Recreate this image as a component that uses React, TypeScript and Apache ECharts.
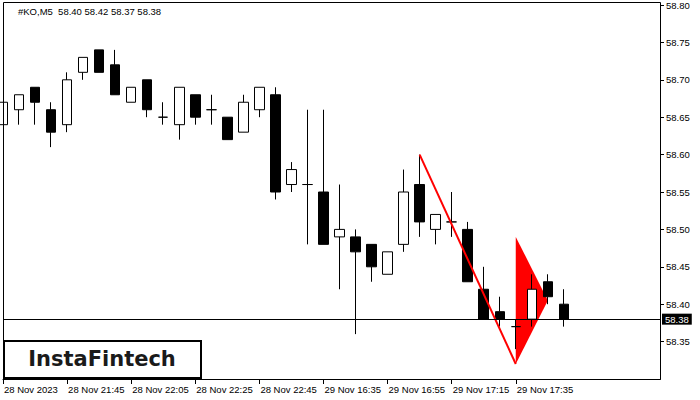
import React, { useEffect, useRef } from "react";
import * as echarts from "echarts";

const symbolLabel = "#KO,M5";
const lastOHLC = ["58.40", "58.42", "58.37", "58.38"];
const firstDateLabel = "28 Nov 2023";
const times = [
  "28 Nov 21:25", "28 Nov 21:30", "28 Nov 21:35", "28 Nov 21:40", "28 Nov 21:45", "28 Nov 21:50",
  "28 Nov 21:55", "28 Nov 22:00", "28 Nov 22:05", "28 Nov 22:10", "28 Nov 22:15", "28 Nov 22:20",
  "28 Nov 22:25", "28 Nov 22:30", "28 Nov 22:35", "28 Nov 22:40", "28 Nov 22:45", "28 Nov 22:50",
  "28 Nov 22:55", "29 Nov 16:30", "29 Nov 16:35", "29 Nov 16:40", "29 Nov 16:45", "29 Nov 16:50",
  "29 Nov 16:55", "29 Nov 17:00", "29 Nov 17:05", "29 Nov 17:10", "29 Nov 17:15", "29 Nov 17:20",
  "29 Nov 17:25", "29 Nov 17:30", "29 Nov 17:35", "29 Nov 17:40", "29 Nov 17:45", "29 Nov 17:50",
];
const emptySlots = ["", "", "", "", "", ""];

const opens = [
  58.64, 58.66, 58.69, 58.66, 58.64, 58.71, 58.74, 58.72, 58.67, 58.70, 58.65, 58.64,
  58.68, 58.66, 58.65, 58.63, 58.66, 58.68, 58.56, 58.56, 58.55, 58.49, 58.49, 58.48,
  58.44, 58.48, 58.56, 58.50, 58.51, 58.50, 58.42, 58.39, 58.37, 58.38, 58.43, 58.40,
];
const closes = [
  58.67, 58.68, 58.67, 58.63, 58.70, 58.73, 58.71, 58.68, 58.69, 58.66, 58.65, 58.69,
  58.65, 58.66, 58.62, 58.67, 58.69, 58.55, 58.58, 58.56, 58.48, 58.50, 58.47, 58.45,
  58.47, 58.55, 58.51, 58.52, 58.51, 58.43, 58.38, 58.38, 58.37, 58.42, 58.41, 58.38,
];
const lows = [
  58.64, 58.64, 58.64, 58.61, 58.63, 58.70, 58.71, 58.68, 58.67, 58.65, 58.64, 58.62,
  58.64, 58.64, 58.62, 58.63, 58.65, 58.54, 58.55, 58.48, 58.48, 58.42, 58.36, 58.43,
  58.44, 58.47, 58.49, 58.48, 58.49, 58.43, 58.38, 58.37, 58.34, 58.37, 58.40, 58.37,
];
const highs = [
  58.67, 58.68, 58.69, 58.67, 58.71, 58.73, 58.74, 58.74, 58.69, 58.70, 58.67, 58.69,
  58.68, 58.68, 58.65, 58.68, 58.69, 58.69, 58.59, 58.66, 58.66, 58.56, 58.50, 58.48,
  58.47, 58.58, 58.60, 58.52, 58.55, 58.51, 58.45, 58.41, 58.38, 58.44, 58.44, 58.42,
];

const currentPrice = 58.38;
const patternLineX = [26, 32];
const patternLineY = [58.6, 58.32];
const flagX = [32, 32, 34];
const flagY = [58.49, 58.32, 58.405];

const yMin = 58.3;
const yMax = 58.8;
const yInterval = 0.05;
const labelEvery = 4;
const lastLabelIndex = 32;

const FONT = "'Liberation Sans', Arial, sans-serif";

export default function App() {
  const ref = useRef<HTMLDivElement>(null);

  useEffect(() => {
    document.body.style.margin = "0";
    const chart = echarts.init(ref.current!, undefined, { renderer: "svg" });

    const categories = [...times, ...emptySlots];
    const candleData: any[] = categories.map((_, i) =>
      i < opens.length ? [opens[i], closes[i], lows[i], highs[i]] : "-"
    );
    const showIdx = (i: number) => i % labelEvery === 0 && i <= lastLabelIndex;

    chart.setOption({
      animation: false,
      backgroundColor: "#ffffff",
      grid: { left: 3, right: 40, top: 5, bottom: 21 },
      xAxis: {
        type: "category",
        data: categories,
        boundaryGap: false,
        axisLine: { show: true, lineStyle: { color: "#000", width: 1 } },
        axisTick: { show: true, interval: (i: number) => showIdx(i), length: 5, lineStyle: { color: "#000" } },
        axisLabel: {
          show: true,
          interval: (i: number) => showIdx(i),
          formatter: (v: string, i: number) => (i === 0 ? firstDateLabel : v),
          align: "left",
          padding: [0, 0, 0, 1],
          margin: 5,
          color: "#000",
          fontSize: 9.5,
          fontFamily: FONT,
        },
        splitLine: { show: false },
      },
      yAxis: {
        type: "value",
        position: "right",
        min: yMin,
        max: yMax,
        interval: yInterval,
        axisLine: { show: true, lineStyle: { color: "#000", width: 1 } },
        axisTick: { show: true, length: 4, lineStyle: { color: "#000" } },
        axisLabel: {
          showMinLabel: false,
          formatter: (v: number) => v.toFixed(2),
          margin: 6,
          color: "#000",
          fontSize: 9.5,
          fontFamily: FONT,
        },
        splitLine: { show: false },
      },
      graphic: [
        {
          type: "rect",
          z: 100,
          silent: true,
          shape: { x: 3.5, y: 2.5, width: 657, height: 377 },
          style: { fill: "none", stroke: "#000", lineWidth: 1 },
        },
        {
          type: "text",
          z: 100,
          x: 18,
          y: 11,
          style: {
            text: symbolLabel + "  " + lastOHLC.join(" "),
            fill: "#000",
            font: `9.5px ${FONT}`,
            verticalAlign: "middle",
          },
        },
        {
          type: "rect",
          z: 101,
          shape: { x: 4, y: 341, width: 197, height: 37 },
          style: { fill: "#fff", stroke: "#000", lineWidth: 2 },
        },
        {
          type: "text",
          z: 102,
          x: 102,
          y: 359,
          style: {
            text: "InstaFintech",
            fill: "#1a1a1a",
            font: `bold 21px 'DejaVu Sans', sans-serif`,
            align: "center",
            verticalAlign: "middle",
          },
        },
      ],
      series: [
        {
          type: "custom",
          z: 1,
          data: [[flagX[0], flagY[0], flagX[1], flagY[1], flagX[2], flagY[2]]],
          encode: { x: [0, 2, 4], y: [1, 3, 5] },
          renderItem: (_p: any, api: any) => {
            const pts = [0, 1, 2].map((i) => api.coord([api.value(i * 2), api.value(i * 2 + 1)]));
            return { type: "polygon", shape: { points: pts }, style: { fill: "#ff0000" } };
          },
        },
        {
          type: "candlestick",
          z: 2,
          barWidth: 10,
          data: candleData,
          itemStyle: {
            color: "#ffffff",
            color0: "#000000",
            borderColor: "#000000",
            borderColor0: "#000000",
            borderColorDoji: "#000000",
            borderWidth: 1,
          },
          markLine: {
            silent: true,
            symbol: ["none", "none"],
            animation: false,
            lineStyle: { color: "#000", width: 1, type: "solid" },
            label: {
              show: true,
              position: "end",
              distance: 2,
              formatter: currentPrice.toFixed(2),
              color: "#fff",
              backgroundColor: "#000",
              padding: [1, 3, 0, 3],
              fontSize: 9.5,
              fontFamily: FONT,
            },
            data: [{ yAxis: currentPrice }],
          },
        },
        {
          type: "line",
          z: 3,
          data: patternLineX.map((x, i) => [x, patternLineY[i]]),
          symbol: "none",
          lineStyle: { color: "#ff0000", width: 2 },
        },
      ],
    });

    return () => chart.dispose();
  }, []);

  return (
    <div
      ref={ref}
      style={{ position: "absolute", left: 0, top: 0, width: 700, height: 400 }}
    />
  );
}
